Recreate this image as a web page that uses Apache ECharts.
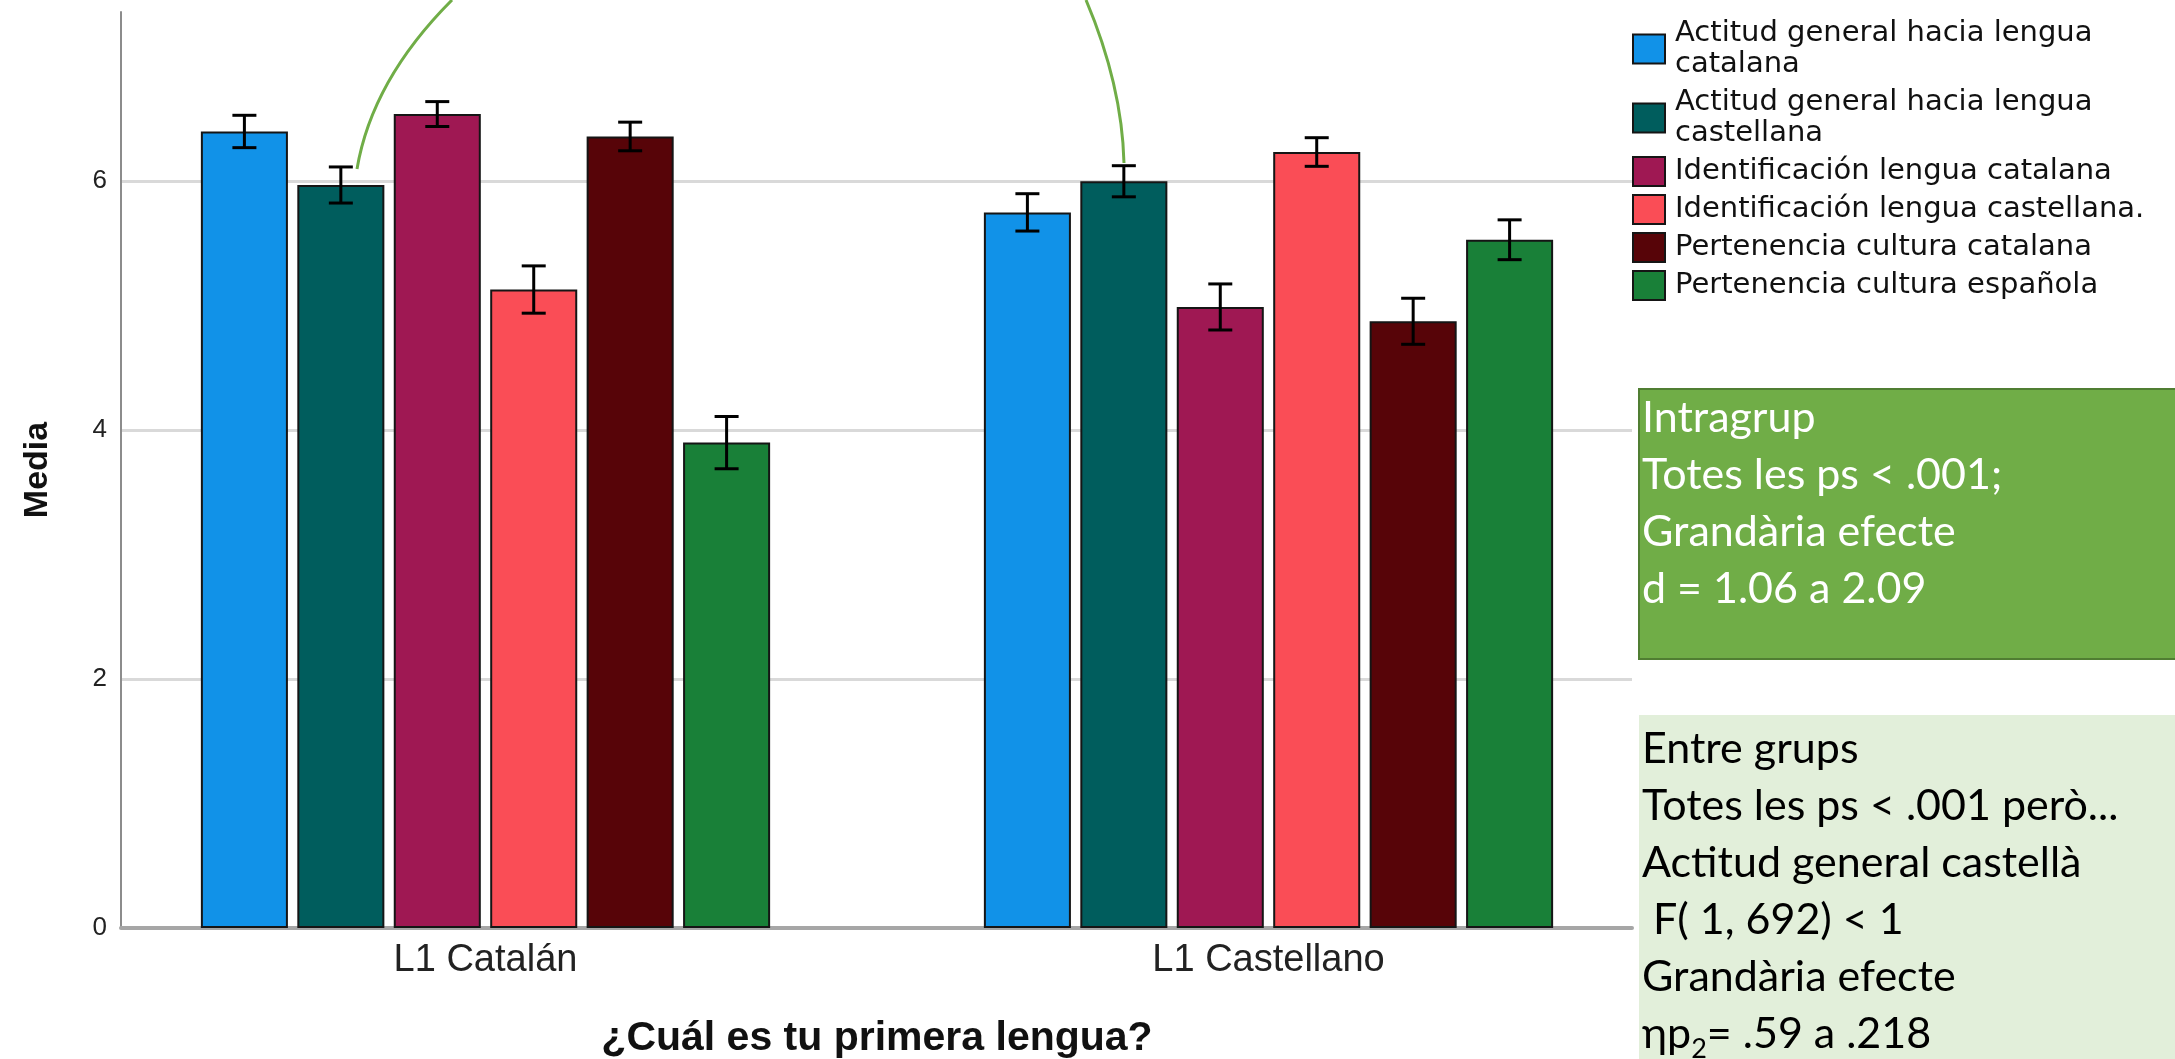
<!DOCTYPE html>
<html>
<head>
<meta charset="utf-8">
<script src="https://cdn.jsdelivr.net/npm/echarts@6/dist/echarts.min.js"></script>
<style>
html,body{margin:0;padding:0;background:#fff;}
#main{width:2175px;height:1059px;}
</style>
</head>
<body>
<div id="main"></div>
<script>
const categories = ['L1 Catalán', 'L1 Castellano'];
const seriesNames = [
  'Actitud general hacia lengua catalana',
  'Actitud general hacia lengua castellana',
  'Identificación lengua catalana',
  'Identificación lengua castellana.',
  'Pertenencia cultura catalana',
  'Pertenencia cultura española'
];
const colors = ['#1192e8', '#005d5d', '#9f1853', '#fa4d56', '#570408', '#198038'];
const actitudCatalana = [6.40, 5.75];
const actitudCastellana = [5.97, 6.00];
const identCatalana = [6.54, 4.99];
const identCastellana = [5.13, 6.235];
const pertCatalana = [6.36, 4.875];
const pertEspanola = [3.90, 5.53];
const errActitudCatalana = [0.13, 0.15];
const errActitudCastellana = [0.145, 0.125];
const errIdentCatalana = [0.10, 0.185];
const errIdentCastellana = [0.19, 0.115];
const errPertCatalana = [0.115, 0.185];
const errPertEspanola = [0.21, 0.16];
const yTicks = [0, 2, 4, 6];

const means = [actitudCatalana, actitudCastellana, identCatalana, identCastellana, pertCatalana, pertEspanola];
const errs = [errActitudCatalana, errActitudCastellana, errIdentCatalana, errIdentCastellana, errPertCatalana, errPertEspanola];

const CAT_GAP = 0.273, BAR_GAP = 0.108, N = seriesNames.length;
const YMAX = 7.36;

const chart = echarts.init(document.getElementById('main'), null, {renderer: 'canvas'});

const barSeries = seriesNames.map((name, i) => ({
  name: name,
  type: 'bar',
  xAxisIndex: 1,
  yAxisIndex: 1,
  barCategoryGap: (CAT_GAP * 100) + '%',
  barGap: (BAR_GAP * 100) + '%',
  itemStyle: {color: colors[i], borderColor: '#151515', borderWidth: 2},
  emphasis: {disabled: true},
  data: means[i]
}));

const errSeries = seriesNames.map((name, i) => ({
  name: 'err' + i,
  type: 'custom',
  xAxisIndex: 1,
  yAxisIndex: 1,
  z: 5,
  encode: {x: 0, y: [1, 2]},
  data: means[i].map((m, c) => [c, m - errs[i][c], m + errs[i][c]]),
  renderItem: function (params, api) {
    const c = api.value(0);
    const band = api.size([1, 0])[0];
    const usable = band * (1 - CAT_GAP);
    const bw = usable / (N + (N - 1) * BAR_GAP);
    const base = api.coord([c, api.value(1)]);
    const top = api.coord([c, api.value(2)]);
    const x = base[0] - usable / 2 + bw / 2 + i * bw * (1 + BAR_GAP);
    const hw = 12;
    const st = {stroke: '#000', lineWidth: 3};
    return {
      type: 'group',
      children: [
        {type: 'line', shape: {x1: x, y1: base[1], x2: x, y2: top[1]}, style: st},
        {type: 'line', shape: {x1: x - hw, y1: base[1], x2: x + hw, y2: base[1]}, style: st},
        {type: 'line', shape: {x1: x - hw, y1: top[1], x2: x + hw, y2: top[1]}, style: st}
      ]
    };
  }
}));

const option = {
  animation: false,
  textStyle: {fontFamily: 'Liberation Sans'},
  grid: [
    {left: 121, top: 12, width: 1511, height: 916, containLabel: false, outerBoundsMode: 'none'},
    {left: 94, top: 12, width: 1566, height: 916, containLabel: false, outerBoundsMode: 'none'}
  ],
  xAxis: [
    {
      gridIndex: 0, type: 'value', min: 0, max: 1,
      axisLine: {show: true, lineStyle: {color: '#a6a6a6', width: 4}},
      axisTick: {show: false}, axisLabel: {show: false}, splitLine: {show: false}
    },
    {
      gridIndex: 1, type: 'category', data: categories,
      axisLine: {show: false}, axisTick: {show: false},
      axisLabel: {fontSize: 38, color: '#222', margin: 14, fontFamily: 'Liberation Sans'},
      name: '¿Cuál es tu primera lengua?',
      nameLocation: 'middle', nameGap: 90,
      nameTextStyle: {fontSize: 41, fontWeight: 'bold', color: '#111', fontFamily: 'Liberation Sans'}
    }
  ],
  yAxis: [
    {
      gridIndex: 0, type: 'value', min: 0, max: YMAX, interval: 2,
      axisLine: {show: true, lineStyle: {color: '#8c8c8c', width: 2}},
      axisTick: {show: false},
      axisLabel: {fontSize: 26, color: '#222', margin: 14, showMaxLabel: false,
        formatter: v => (yTicks.indexOf(v) >= 0 ? String(v) : '')},
      splitLine: {show: true, showMaxLine: false, lineStyle: {color: '#d9d9d9', width: 3}},
      name: 'Media', nameLocation: 'middle', nameGap: 66, nameRotate: 90,
      nameTextStyle: {fontSize: 34, fontWeight: 'bold', color: '#111', fontFamily: 'Liberation Sans'}
    },
    {
      gridIndex: 1, type: 'value', min: 0, max: YMAX, interval: 2,
      show: false, splitLine: {show: false}
    }
  ],
  legend: {
    data: seriesNames,
    orient: 'vertical',
    left: 1632, top: 18,
    padding: 0,
    itemWidth: 32, itemHeight: 29, itemGap: 7,
    icon: 'rect',
    selectedMode: false,
    formatter: function (name) {
      return name.replace('hacia lengua ', 'hacia lengua\n');
    },
    textStyle: {fontFamily: 'DejaVu Sans', fontSize: 29, lineHeight: 31, color: '#111', padding: [0, 0, 0, 5]}
  },
  series: barSeries.concat(errSeries),
  graphic: [
    {type: 'bezierCurve', z: 100, shape: {x1: 357, y1: 169, cpx1: 372, cpy1: 80, x2: 452, y2: 0},
      style: {stroke: '#70ad47', lineWidth: 3, fill: null}},
    {type: 'bezierCurve', z: 100, shape: {x1: 1124, y1: 163, cpx1: 1122, cpy1: 85, x2: 1086, y2: 0},
      style: {stroke: '#70ad47', lineWidth: 3, fill: null}},
    {type: 'rect', z: 50, shape: {x: 1639, y: 389, width: 545, height: 270},
      style: {fill: '#70ad47', stroke: '#507e32', lineWidth: 2}},
    {type: 'text', z: 51, left: 1642, top: 390,
      style: {text: 'Intragrup\nTotes les ps < .001;\nGrandària efecte\nd = 1.06 a 2.09',
        fill: '#ffffff', font: '43px Lato', lineHeight: 57}},
    {type: 'rect', z: 50, shape: {x: 1639, y: 715, width: 545, height: 360},
      style: {fill: '#e2efda', lineWidth: 0}},
    {type: 'text', z: 51, left: 1642, top: 721,
      style: {
        text: 'Entre grups\nTotes les ps < .001 però...\nActitud general castellà\n F( 1, 692) < 1\nGrandària efecte\nηp{s|2}= .59 a .218',
        fill: '#000000', font: '43px Lato', lineHeight: 57,
        rich: {s: {fontSize: 27, fontFamily: 'Lato', fill: '#000', verticalAlign: 'bottom', lineHeight: 57, padding: [0, 0, 0, 0]}}
      }}
  ]
};
chart.setOption(option);
</script>
</body>
</html>
